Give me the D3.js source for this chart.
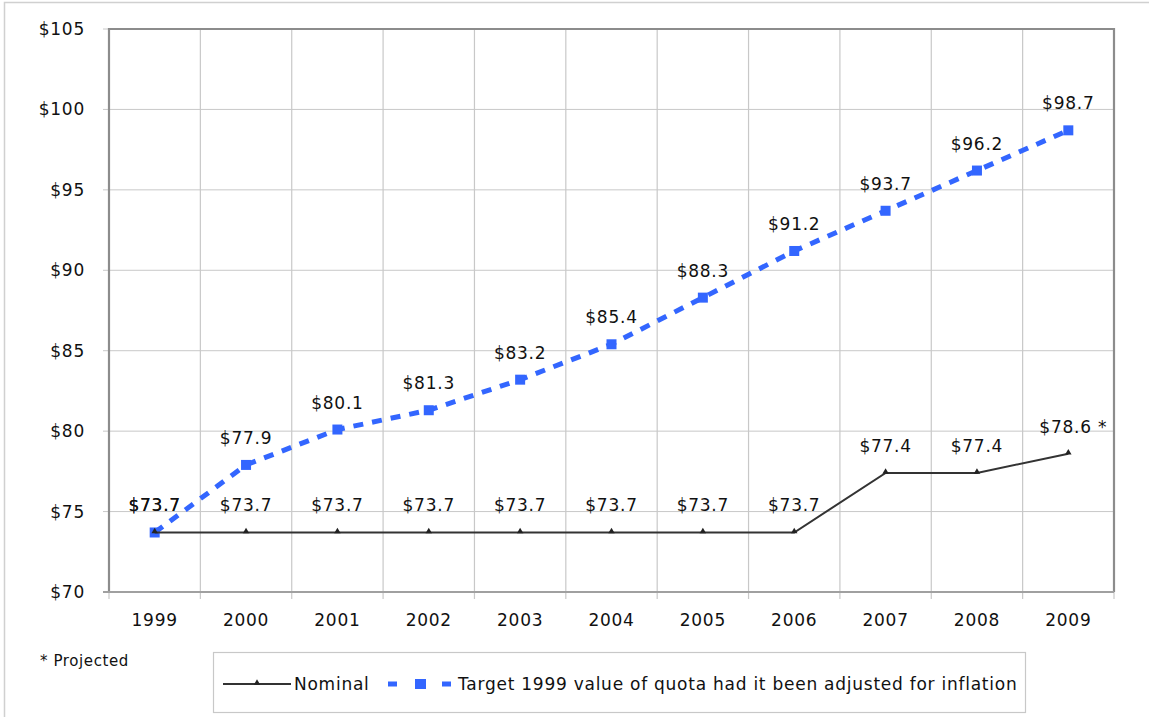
<!DOCTYPE html>
<html><head><meta charset="utf-8">
<script src="https://cdn.jsdelivr.net/npm/d3@7"></script>
<style>body{margin:0;background:#fff;}svg{display:block;font-family:"DejaVu Sans",Verdana,sans-serif;}</style>
</head><body><svg id="c" width="1149" height="717"></svg>
<script>
const years = ["1999","2000","2001","2002","2003","2004","2005","2006","2007","2008","2009"];
const nominal = [73.7,73.7,73.7,73.7,73.7,73.7,73.7,73.7,77.4,77.4,78.6];
const target = [73.7,77.9,80.1,81.3,83.2,85.4,88.3,91.2,93.7,96.2,98.7];
const yTicks = [70,75,80,85,90,95,100,105];
const nominalName = "Nominal";
const targetName = "Target 1999 value of quota had it been adjusted for inflation";

const svg = d3.select("#c");
const L=109,R=1114,T=29,B=592;
const FS=17, LS="0.75px";
const x = d3.scaleBand().domain(years).range([L,R]);
const y = d3.scaleLinear().domain([70,105]).range([B,T]);
const cx = d=>x(d)+x.bandwidth()/2;

// outer frame
svg.append("rect").attr("x",4.5).attr("y",2.5).attr("width",1160).attr("height",730).attr("fill","none").attr("stroke","#d0d0d0").attr("stroke-width",1.5);

// gridlines
svg.append("g").selectAll("line").data(yTicks).join("line")
 .attr("x1",L-6).attr("x2",R).attr("y1",d=>y(d)).attr("y2",d=>y(d)).attr("stroke","#c8c8c8").attr("stroke-width",1);
const bounds = years.map(d=>x(d)).concat([R]);
svg.append("g").selectAll("line").data(bounds).join("line")
 .attr("x1",d=>d).attr("x2",d=>d).attr("y1",T).attr("y2",B+7).attr("stroke","#c8c8c8").attr("stroke-width",1.2);

// frame of plot
svg.append("path").attr("d",`M${L},${B}V${T}H${R}V${B}`).attr("fill","none").attr("stroke","#8c8c8c").attr("stroke-width",2.2);
svg.append("line").attr("x1",L-6).attr("x2",R).attr("y1",B).attr("y2",B).attr("stroke","#a0a0a0").attr("stroke-width",2);

// axes labels
const yAxis = d3.axisLeft(y).tickValues(yTicks).tickFormat(d=>"$"+d).tickSize(0).tickPadding(24);
const gy = svg.append("g").attr("transform",`translate(${L},0)`).call(yAxis);
gy.select(".domain").remove();
gy.selectAll("text").attr("font-size",FS).attr("letter-spacing",LS).attr("fill","#111").attr("font-family","DejaVu Sans, Verdana, sans-serif");
const xAxis = d3.axisBottom(x).tickSize(0).tickPadding(22);
const gx = svg.append("g").attr("transform",`translate(0,${B})`).call(xAxis);
gx.select(".domain").remove();
gx.selectAll("text").attr("font-size",FS).attr("letter-spacing",LS).attr("fill","#111").attr("font-family","DejaVu Sans, Verdana, sans-serif");

// target line
const lineT = d3.line().x((d,i)=>cx(years[i])).y(d=>y(d));
svg.append("path").datum(target).attr("d",lineT).attr("fill","none").attr("stroke","#3366ff").attr("stroke-width",5).attr("stroke-dasharray","10,9");
svg.append("g").selectAll("rect").data(target).join("rect")
 .attr("x",(d,i)=>cx(years[i])-5).attr("y",d=>y(d)-5).attr("width",10).attr("height",10).attr("fill","#3366ff");

// nominal line
svg.append("path").datum(nominal).attr("d",lineT).attr("fill","none").attr("stroke","#333").attr("stroke-width",2);
const tri = d3.symbol().type(d3.symbolTriangle).size(18);
svg.append("g").selectAll("path").data(nominal).join("path")
 .attr("d",tri).attr("transform",(d,i)=>`translate(${cx(years[i])},${y(d)-1})`).attr("fill","#222");

// labels
svg.append("g").selectAll("text").data(target).join("text")
 .attr("x",(d,i)=>cx(years[i])).attr("y",d=>y(d)-21).attr("text-anchor","middle")
 .attr("font-size",FS).attr("letter-spacing",LS).attr("fill","#111").text(d=>"$"+d.toFixed(1));
svg.append("g").selectAll("text").data(nominal).join("text")
 .attr("x",(d,i)=>cx(years[i])).attr("y",d=>y(d)-21).attr("text-anchor",(d,i)=>i===10?"start":"middle")
 .attr("dx",(d,i)=>i===10?-29:0)
 .attr("font-size",FS).attr("letter-spacing",LS).attr("fill","#111")
 .text((d,i)=>"$"+d.toFixed(1)+(i===10?" *":""));

// footnote
svg.append("text").attr("x",40).attr("y",666).attr("font-size",15).attr("letter-spacing","0.6px").attr("fill","#111").text("* Projected");

// legend
svg.append("rect").attr("x",213.5).attr("y",652.5).attr("width",812).attr("height",60).attr("fill","#fff").attr("stroke","#c8c8c8").attr("stroke-width",1.2);
const ly=684;
svg.append("line").attr("x1",223).attr("x2",291).attr("y1",ly).attr("y2",ly).attr("stroke","#333").attr("stroke-width",2);
svg.append("path").attr("d",tri).attr("transform",`translate(257,${ly-1})`).attr("fill","#222");
svg.append("text").attr("x",294).attr("y",ly+6).attr("font-size",FS).attr("letter-spacing",LS).attr("fill","#111").text(nominalName);
svg.append("line").attr("x1",388).attr("x2",451).attr("y1",ly).attr("y2",ly).attr("stroke","#3366ff").attr("stroke-width",5).attr("stroke-dasharray","9,18");
svg.append("rect").attr("x",415).attr("y",ly-5).attr("width",11).attr("height",10).attr("fill","#3366ff");
svg.append("text").attr("x",458).attr("y",ly+6).attr("font-size",FS).attr("letter-spacing",LS).attr("fill","#111").text(targetName);
</script></body></html>
